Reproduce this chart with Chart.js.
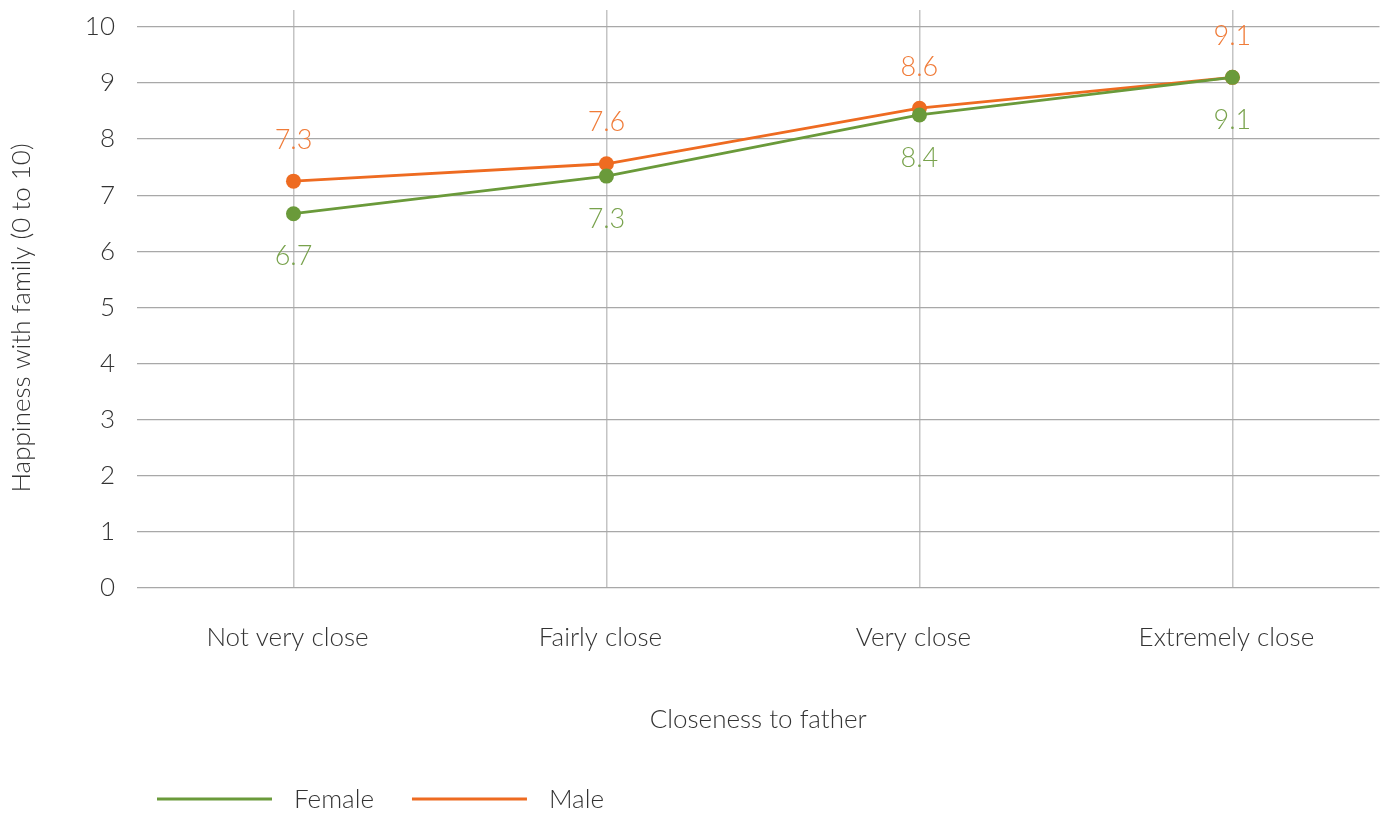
<!DOCTYPE html>
<html>
<head>
<meta charset="utf-8">
<title>Happiness with family by closeness to father</title>
<script src="https://cdn.jsdelivr.net/npm/chart.js@4.4.1/dist/chart.umd.min.js"></script>
<style>
  html, body { margin: 0; padding: 0; background: #ffffff; }
  #wrap { width: 1387px; height: 814px; }
</style>
</head>
<body>
<div id="wrap"><canvas id="chart" width="1387" height="814"></canvas></div>
<script>
// Categories along the x axis
const categories = ['Not very close', 'Fairly close', 'Very close', 'Extremely close'];

// Mean happiness with family (0 to 10) per group
const femaleValues = [6.67, 7.34, 8.43, 9.1];
const maleValues = [7.25, 7.56, 8.55, 9.1];

// Y axis tick labels
const yTicks = [0, 1, 2, 3, 4, 5, 6, 7, 8, 9, 10];

const yTitle = 'Happiness with family (0 to 10)';

const FONT = "Lato, 'Open Sans', sans-serif";
const TEXT = '#333333';
const GREEN = '#6a9a3a';
const ORANGE = '#ee6b21';

const toPoints = vals => vals.map((v, i) => ({ x: i, y: v }));
const oneDecimal = v => (Math.round(v * 10) / 10).toFixed(1);

// Value labels: green below its point, orange above
const valueLabels = {
  id: 'valueLabels',
  afterDatasetsDraw(chart) {
    const ctx = chart.ctx;
    chart.data.datasets.forEach((ds, di) => {
      const meta = chart.getDatasetMeta(di);
      ctx.save();
      ctx.font = `300 27px ${FONT}`;
      ctx.fillStyle = ds.labelColor;
      ctx.textAlign = 'center';
      ctx.textBaseline = 'middle';
      meta.data.forEach((pt, i) => {
        ctx.fillText(oneDecimal(ds.data[i].y), pt.x, pt.y + ds.labelShift);
      });
      ctx.restore();
    });
  }
};

// Rotated y axis title, placed a little below the middle of the axis
const sideTitle = {
  id: 'sideTitle',
  afterDraw(chart, args, opts) {
    const ctx = chart.ctx;
    const area = chart.chartArea;
    ctx.save();
    ctx.font = `300 26px ${FONT}`;
    ctx.fillStyle = TEXT;
    ctx.textAlign = 'center';
    ctx.textBaseline = 'middle';
    ctx.translate(opts.x, (area.top + area.bottom) / 2 + opts.shift);
    ctx.rotate(-Math.PI / 2);
    ctx.fillText(opts.text, 0, 0);
    ctx.restore();
  }
};

// Legend drawn as long line swatches followed by series names
const lineLegend = {
  id: 'lineLegend',
  afterDraw(chart, args, opts) {
    const ctx = chart.ctx;
    let x = opts.x;
    const y = opts.y;
    ctx.save();
    ctx.font = `300 26px ${FONT}`;
    ctx.textBaseline = 'middle';
    ctx.textAlign = 'left';
    chart.data.datasets.forEach(ds => {
      ctx.strokeStyle = ds.borderColor;
      ctx.lineWidth = 3;
      ctx.beginPath();
      ctx.moveTo(x, y);
      ctx.lineTo(x + opts.swatch, y);
      ctx.stroke();
      ctx.fillStyle = TEXT;
      const tx = x + opts.swatch + opts.gap;
      ctx.fillText(ds.label, tx, y + 1);
      x = tx + ctx.measureText(ds.label).width + opts.spacing;
    });
    ctx.restore();
  }
};

new Chart(document.getElementById('chart'), {
  type: 'line',
  data: {
    datasets: [
      {
        label: 'Female',
        data: toPoints(femaleValues),
        borderColor: GREEN,
        backgroundColor: GREEN,
        pointBackgroundColor: GREEN,
        pointBorderColor: GREEN,
        borderWidth: 2.8,
        pointRadius: 7.5,
        pointBorderWidth: 0,
        labelColor: '#78a24c',
        labelShift: 43,
        tension: 0
      },
      {
        label: 'Male',
        data: toPoints(maleValues),
        borderColor: ORANGE,
        backgroundColor: ORANGE,
        pointBackgroundColor: ORANGE,
        pointBorderColor: ORANGE,
        borderWidth: 2.8,
        pointRadius: 7.5,
        pointBorderWidth: 0,
        labelColor: '#f07b38',
        labelShift: -41,
        tension: 0
      }
    ]
  },
  options: {
    responsive: false,
    animation: false,
    events: [],
    layout: { padding: { top: 10, right: 7, bottom: 66, left: 0 } },
    plugins: {
      legend: { display: false },
      tooltip: { enabled: false },
      sideTitle: { text: yTitle, x: 22, shift: 19 },
      lineLegend: { x: 157, y: 799, swatch: 115, gap: 22, spacing: 38 }
    },
    scales: {
      x: {
        type: 'linear',
        min: -0.5,
        max: 3.47,
        afterBuildTicks: scale => {
          scale.ticks = categories.map((c, i) => ({ value: i }));
        },
        afterFit: scale => {
          scale.height = 160;
          scale.paddingLeft = 0;
          scale.paddingRight = 0;
        },
        ticks: {
          callback: v => categories[v],
          font: { family: FONT, size: 26, weight: 300 },
          color: TEXT,
          padding: 34,
          labelOffset: -6,
          maxRotation: 0,
          autoSkip: false
        },
        grid: { color: '#c4c4c4', lineWidth: 1.5, drawTicks: false },
        border: { display: false },
        title: {
          display: true,
          text: 'Closeness to father',
          font: { family: FONT, size: 26, weight: 300 },
          color: TEXT,
          padding: { top: 0, bottom: 13 }
        }
      },
      y: {
        min: 0,
        max: 10.3,
        afterBuildTicks: scale => {
          scale.ticks = yTicks.map(v => ({ value: v }));
        },
        afterFit: scale => {
          scale.width = 137;
          scale.paddingTop = 0;
          scale.paddingBottom = 0;
        },
        ticks: {
          font: { family: FONT, size: 26, weight: 300 },
          color: TEXT,
          padding: 22
        },
        grid: { color: '#a8a8a8', lineWidth: 1.2, drawTicks: false },
        border: { display: false },
        title: { display: false }
      }
    }
  },
  plugins: [valueLabels, sideTitle, lineLegend]
});
</script>
</body>
</html>
